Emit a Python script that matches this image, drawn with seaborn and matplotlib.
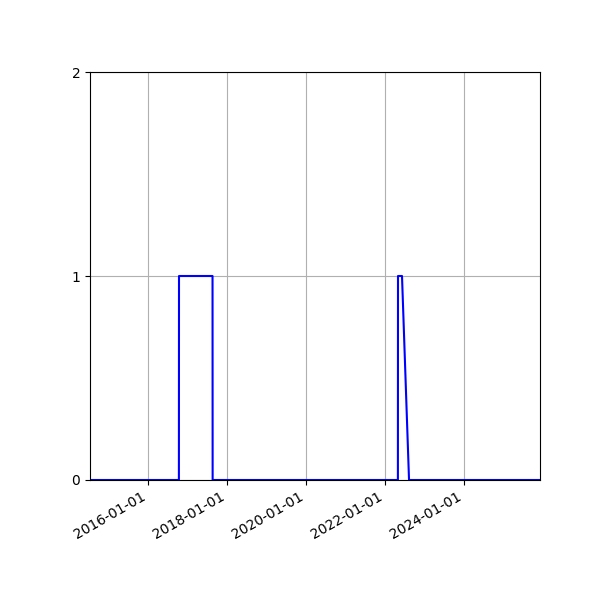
import pandas as pd
import seaborn as sns
import matplotlib
matplotlib.use("Agg")
import matplotlib.pyplot as plt
import matplotlib.dates as mdates

# breakpoints of the series (value holds between them)
dates = ["2014-07-14", "2016-10-13", "2016-10-14", "2017-08-20", "2017-08-21",
         "2022-04-30", "2022-05-01", "2022-06-07", "2022-08-11", "2025-12-04"]
values = [0, 0, 1, 1, 0, 0, 1, 1, 0, 0]
ytick_vals = [0, 1, 2]

df = pd.DataFrame({"date": pd.to_datetime(dates), "value": values})

fig, ax = plt.subplots(figsize=(6, 6), dpi=100)
sns.lineplot(data=df, x="date", y="value", color="blue", linewidth=1.5, ax=ax)

ax.set_xlim(df["date"].min(), df["date"].max())
ax.set_ylim(0, 2)
ax.set_yticks(ytick_vals)
ax.xaxis.set_major_locator(mdates.YearLocator(2))
ax.xaxis.set_major_formatter(mdates.DateFormatter("%Y-%m-%d"))
ax.set_xlabel("")
ax.set_ylabel("")
ax.grid(True)

fig.autofmt_xdate()
fig.subplots_adjust(left=0.15, right=0.9, top=0.88, bottom=0.2)
fig.savefig("out.png")
